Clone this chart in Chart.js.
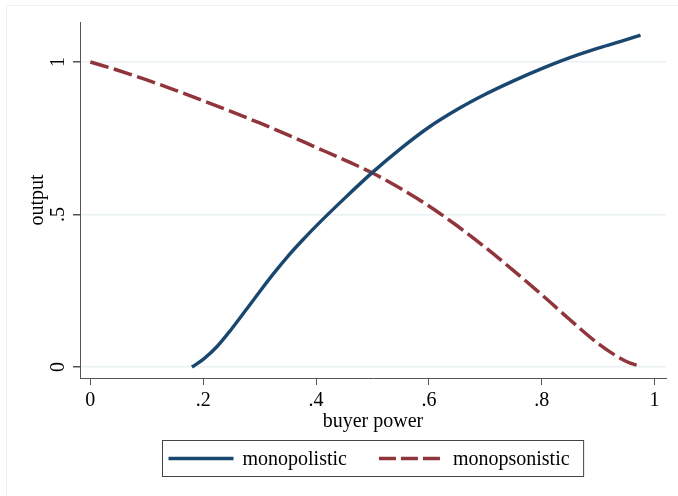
<!DOCTYPE html>
<html>
<head>
<meta charset="utf-8">
<script src="https://cdn.jsdelivr.net/npm/chart.js@4.4.1/dist/chart.umd.min.js"></script>
<style>
  html, body { margin: 0; padding: 0; background: #ffffff; }
  #wrap { width: 678px; height: 496px; }
</style>
</head>
<body>
<div id="wrap"><canvas id="c" width="678" height="496"></canvas></div>
<script>
// Output as a function of buyer power, two market structures
const monopolisticPower  = [0.18, 0.2, 0.225, 0.25, 0.275, 0.3, 0.325, 0.35, 0.375, 0.4, 0.45, 0.5, 0.55, 0.6, 0.65, 0.7, 0.75, 0.8, 0.85, 0.9, 0.95, 0.975];
const monopolisticOutput = [0.0, 0.025, 0.068, 0.124, 0.185, 0.247, 0.307, 0.363, 0.414, 0.462, 0.552, 0.638, 0.716, 0.786, 0.844, 0.894, 0.938, 0.978, 1.014, 1.045, 1.073, 1.088];

const monopsonisticPower  = [0, 0.05, 0.1, 0.15, 0.2, 0.25, 0.3, 0.35, 0.4, 0.45, 0.5, 0.55, 0.6, 0.65, 0.7, 0.75, 0.8, 0.85, 0.9, 0.95, 0.975];
const monopsonisticOutput = [1.0, 0.972, 0.941, 0.908, 0.873, 0.837, 0.8, 0.761, 0.72, 0.679, 0.636, 0.585, 0.528, 0.463, 0.392, 0.316, 0.237, 0.155, 0.077, 0.018, 0.002];

const seriesNames = ['monopolistic', 'monopsonistic'];
const xTickValues = [0, 0.2, 0.4, 0.6, 0.8, 1];
const yTickValues = [0, 0.5, 1];
const xAxisTitle = 'buyer power';
const yAxisTitle = 'output';

const toPoints = (xs, ys) => xs.map((x, i) => ({ x: x, y: ys[i] }));
const fmt = v => (v === 0 || v === 1) ? String(v) : String(+v.toFixed(1)).replace(/^0/, '');

const SERIF = '"Liberation Serif", "Times New Roman", serif';
const NAVY = '#1a476f';
const MAROON = '#90353b';

// white page plus the faint frame of the graph region
const backdrop = {
  id: 'backdrop',
  beforeDraw(chart) {
    const ctx = chart.ctx;
    ctx.save();
    ctx.fillStyle = '#ffffff';
    ctx.fillRect(0, 0, chart.width, chart.height);
    ctx.strokeStyle = '#f1f1f1';
    ctx.lineWidth = 1;
    ctx.strokeRect(6.5, 5.5, chart.width + 20, chart.height + 20);
    ctx.restore();
  }
};

// boxed legend centred under the plot area
const boxedLegend = {
  id: 'boxedLegend',
  afterDraw(chart) {
    const ctx = chart.ctx;
    const area = chart.chartArea;
    const sets = chart.data.datasets;
    ctx.save();
    ctx.font = '20px ' + SERIF;
    const keyLen = 65, keyGap = 9, itemGap = 32, padL = 6, padR = 14;
    const widths = sets.map(d => ctx.measureText(d.label).width);
    const total = padL + keyLen + keyGap + widths[0] + itemGap + keyLen + keyGap + widths[1] + padR;
    const left = Math.round((area.left + area.right) / 2 - total / 2) + 0.5;
    const top = 440.5, h = 36, midY = top + h / 2;
    ctx.strokeStyle = '#444444';
    ctx.lineWidth = 1;
    ctx.strokeRect(left, top, total, h);
    let x = left + padL;
    sets.forEach((d, i) => {
      ctx.beginPath();
      ctx.setLineDash(d.borderDash ? [17, 5] : []);
      ctx.lineDashOffset = 0;
      ctx.strokeStyle = d.borderColor;
      ctx.lineWidth = d.borderWidth;
      ctx.moveTo(x, midY);
      ctx.lineTo(x + keyLen, midY);
      ctx.stroke();
      ctx.setLineDash([]);
      x += keyLen + keyGap;
      ctx.fillStyle = '#000000';
      ctx.textAlign = 'left';
      ctx.textBaseline = 'middle';
      ctx.fillText(d.label, x, midY + 1);
      x += widths[i] + itemGap;
    });
    ctx.restore();
  }
};

new Chart(document.getElementById('c'), {
  type: 'line',
  data: {
    datasets: [
      {
        label: seriesNames[0],
        data: toPoints(monopolisticPower, monopolisticOutput),
        borderColor: NAVY,
        borderWidth: 3.4,
        pointRadius: 0,
        fill: false,
        cubicInterpolationMode: 'monotone'
      },
      {
        label: seriesNames[1],
        data: toPoints(monopsonisticPower, monopsonisticOutput),
        borderColor: MAROON,
        borderWidth: 3.5,
        borderDash: [19, 5.5],
        pointRadius: 0,
        fill: false,
        cubicInterpolationMode: 'monotone'
      }
    ]
  },
  options: {
    responsive: false,
    animation: false,
    devicePixelRatio: 1,
    layout: { padding: { left: 0, right: 12, top: 22, bottom: 58 } },
    plugins: {
      legend: { display: false },
      tooltip: { enabled: false },
      title: { display: false }
    },
    scales: {
      x: {
        type: 'linear',
        min: -0.0183,
        max: 1.0202,
        afterBuildTicks: s => { s.ticks = xTickValues.map(v => ({ value: v })); },
        afterFit: s => { s.height = 60; },
        border: { display: true, color: '#555555', width: 1 },
        grid: { drawOnChartArea: false, drawTicks: true, tickLength: 7, tickColor: '#555555' },
        ticks: {
          color: '#000000',
          font: { family: SERIF, size: 20 },
          padding: 4,
          maxRotation: 0,
          autoSkip: false,
          callback: v => fmt(v)
        },
        title: {
          display: true,
          text: xAxisTitle,
          color: '#000000',
          font: { family: SERIF, size: 20 },
          padding: { top: 0, bottom: 4 }
        }
      },
      y: {
        type: 'linear',
        min: -0.036,
        max: 1.131,
        afterBuildTicks: s => { s.ticks = yTickValues.map(v => ({ value: v })); },
        afterFit: s => { s.width = 80; },
        border: { display: true, color: '#555555', width: 1 },
        grid: { drawOnChartArea: true, color: '#eaf1f2', lineWidth: 1.5, drawTicks: true, tickLength: 7, tickColor: '#555555' },
        ticks: {
          color: '#000000',
          font: { family: SERIF, size: 20 },
          padding: 7,
          minRotation: 90,
          maxRotation: 90,
          crossAlign: 'center',
          autoSkip: false,
          callback: v => fmt(v)
        },
        title: {
          display: true,
          text: yAxisTitle,
          color: '#000000',
          font: { family: SERIF, size: 20 },
          padding: { top: 26, bottom: 0 }
        }
      }
    }
  },
  plugins: [backdrop, boxedLegend]
});
</script>
</body>
</html>
